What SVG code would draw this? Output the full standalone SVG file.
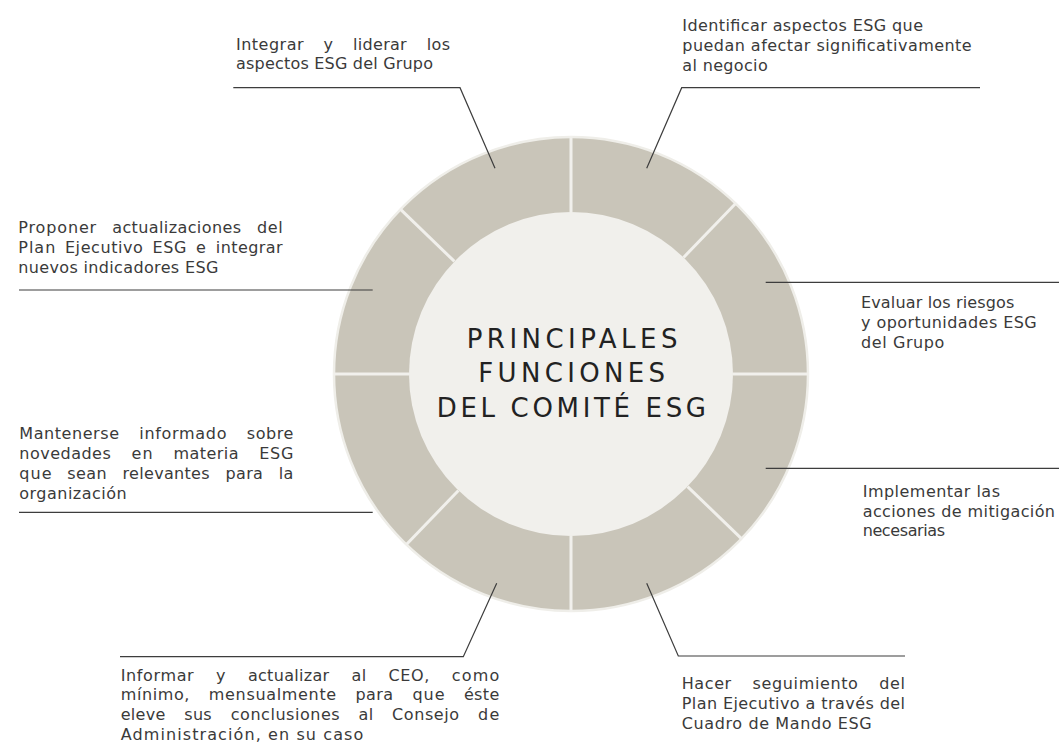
<svg xmlns="http://www.w3.org/2000/svg" width="1059" height="744" viewBox="0 0 1059 744">
<style>
.t{font-family:"DejaVu Sans","Liberation Sans",sans-serif;font-size:16px;fill:#3a3a3a}
.c{font-family:"DejaVu Sans","Liberation Sans",sans-serif;font-size:26px;fill:#222;}
.ld{fill:none;stroke:#3d3d3d;stroke-width:1.2}
.dv{stroke:#f1f0ec;stroke-width:3}
</style>
<rect width="1059" height="744" fill="#fff"/>
<g id="ring">
<circle cx="571" cy="374" r="237" fill="#c9c5b9" stroke="#efeee9" stroke-width="2.5"/>
<g class="dv">
<line x1="571" y1="212" x2="571" y2="136"/>
<line x1="571" y1="536" x2="571" y2="612"/>
<line x1="409" y1="374" x2="333" y2="374"/>
<line x1="733" y1="374" x2="809" y2="374"/>
<g transform="rotate(-1 571 374)">
<line x1="456.4" y1="259.4" x2="402.7" y2="205.7"/>
<line x1="685.6" y1="259.4" x2="739.3" y2="205.7"/>
<line x1="685.6" y1="488.6" x2="739.3" y2="542.3"/>
<line x1="456.4" y1="488.6" x2="402.7" y2="542.3"/>
</g>
</g>
</g>
<g id="center">
<circle cx="571" cy="374" r="162" fill="#f1f0ec"/>
<text class="c" x="466.7" y="348.3" textLength="210.7" lengthAdjust="spacing">PRINCIPALES</text>
<text class="c" x="478.3" y="382.3" textLength="186.7" lengthAdjust="spacing">FUNCIONES</text>
<text class="c" x="436.7" y="416.7" textLength="269.3" lengthAdjust="spacing">DEL COMITÉ ESG</text>
</g>
<g id="connectors">
<polyline class="ld" points="233.3,87.7 460,87.7 495,168.3"/>
<polyline class="ld" points="980,87.7 681.7,87.7 646.7,168.3"/>
<polyline class="ld" points="19,290 372.7,290"/>
<polyline class="ld" points="765.7,282.3 1059,282.3"/>
<polyline class="ld" points="19,512.3 372.7,512.3"/>
<polyline class="ld" points="765.7,468.3 1059,468.3"/>
<polyline class="ld" points="120,656.7 463.3,656.7 496.7,583.3"/>
<polyline class="ld" points="905,656 678.3,656 646.7,583.3"/>
</g>
<g id="f1">
<text class="t" x="236" y="49.5" textLength="67.5" lengthAdjust="spacing">Integrar</text>
<text class="t" x="323.6" y="49.5">y</text>
<text class="t" x="353.1" y="49.5" textLength="53.6" lengthAdjust="spacing">liderar</text>
<text class="t" x="426.8" y="49.5" textLength="23.3" lengthAdjust="spacing">los</text>
<text class="t" x="236" y="69.3" textLength="197" lengthAdjust="spacing">aspectos ESG del Grupo</text>
</g>
<g id="f2">
<text class="t" x="682.3" y="30.7" textLength="240.7" lengthAdjust="spacing">Identificar aspectos ESG que</text>
<text class="t" x="682.3" y="50.7" textLength="289.4" lengthAdjust="spacing">puedan afectar significativamente</text>
<text class="t" x="682.3" y="70.7" textLength="85.4" lengthAdjust="spacing">al negocio</text>
</g>
<g id="f3">
<text class="t" x="18.3" y="232.7" textLength="77.9" lengthAdjust="spacing">Proponer</text>
<text class="t" x="112.2" y="232.7" textLength="128.8" lengthAdjust="spacing">actualizaciones</text>
<text class="t" x="256.9" y="232.7" textLength="25.8" lengthAdjust="spacing">del</text>
<text class="t" x="18.3" y="252.5" textLength="37" lengthAdjust="spacing">Plan</text>
<text class="t" x="64.9" y="252.5" textLength="78" lengthAdjust="spacing">Ejecutivo</text>
<text class="t" x="152.4" y="252.5" textLength="34.1" lengthAdjust="spacing">ESG</text>
<text class="t" x="196.1" y="252.5">e</text>
<text class="t" x="215.8" y="252.5" textLength="66.9" lengthAdjust="spacing">integrar</text>
<text class="t" x="18.3" y="272.5" textLength="200" lengthAdjust="spacing">nuevos indicadores ESG</text>
</g>
<g id="f4">
<text class="t" x="861" y="308.3" textLength="153.3" lengthAdjust="spacing">Evaluar los riesgos</text>
<text class="t" x="861" y="328.3" textLength="175.7" lengthAdjust="spacing">y oportunidades ESG</text>
<text class="t" x="861" y="348.3" textLength="83.3" lengthAdjust="spacing">del Grupo</text>
</g>
<g id="f5">
<text class="t" x="19.3" y="439.3" textLength="99.7" lengthAdjust="spacing">Mantenerse</text>
<text class="t" x="139.3" y="439.3" textLength="87.2" lengthAdjust="spacing">informado</text>
<text class="t" x="246.8" y="439.3" textLength="46.5" lengthAdjust="spacing">sobre</text>
<text class="t" x="19.3" y="459.2" textLength="91.5" lengthAdjust="spacing">novedades</text>
<text class="t" x="131.5" y="459.2" textLength="21.2" lengthAdjust="spacing">en</text>
<text class="t" x="173.4" y="459.2" textLength="65.1" lengthAdjust="spacing">materia</text>
<text class="t" x="259.2" y="459.2" textLength="34.1" lengthAdjust="spacing">ESG</text>
<text class="t" x="19.3" y="479.1" textLength="32.2" lengthAdjust="spacing">que</text>
<text class="t" x="67.3" y="479.1" textLength="39.4" lengthAdjust="spacing">sean</text>
<text class="t" x="122.5" y="479.1" textLength="87.1" lengthAdjust="spacing">relevantes</text>
<text class="t" x="225.4" y="479.1" textLength="37.5" lengthAdjust="spacing">para</text>
<text class="t" x="278.7" y="479.1" textLength="14.5" lengthAdjust="spacing">la</text>
<text class="t" x="19.3" y="499" textLength="107.4" lengthAdjust="spacing">organización</text>
</g>
<g id="f6">
<text class="t" x="862.7" y="496.7" textLength="137.3" lengthAdjust="spacing">Implementar las</text>
<text class="t" x="862.7" y="516.5" textLength="192.3" lengthAdjust="spacing">acciones de mitigación</text>
<text class="t" x="862.7" y="536.3" textLength="82.3" lengthAdjust="spacing">necesarias</text>
</g>
<g id="f7">
<text class="t" x="120.7" y="680.6" textLength="73" lengthAdjust="spacing">Informar</text>
<text class="t" x="216.1" y="680.6">y</text>
<text class="t" x="247.9" y="680.6" textLength="81.3" lengthAdjust="spacing">actualizar</text>
<text class="t" x="351.6" y="680.6" textLength="14.5" lengthAdjust="spacing">al</text>
<text class="t" x="388.5" y="680.6" textLength="40.9" lengthAdjust="spacing">CEO,</text>
<text class="t" x="451.8" y="680.6" textLength="47.6" lengthAdjust="spacing">como</text>
<text class="t" x="120.7" y="700.4" textLength="68.7" lengthAdjust="spacing">mínimo,</text>
<text class="t" x="208.8" y="700.4" textLength="127.4" lengthAdjust="spacing">mensualmente</text>
<text class="t" x="355.5" y="700.4" textLength="37.5" lengthAdjust="spacing">para</text>
<text class="t" x="412.4" y="700.4" textLength="32.2" lengthAdjust="spacing">que</text>
<text class="t" x="463.9" y="700.4" textLength="35.4" lengthAdjust="spacing">éste</text>
<text class="t" x="120.7" y="720.2" textLength="44.6" lengthAdjust="spacing">eleve</text>
<text class="t" x="184.2" y="720.2" textLength="27.5" lengthAdjust="spacing">sus</text>
<text class="t" x="230.7" y="720.2" textLength="109" lengthAdjust="spacing">conclusiones</text>
<text class="t" x="358.6" y="720.2" textLength="14.5" lengthAdjust="spacing">al</text>
<text class="t" x="392" y="720.2" textLength="67.1" lengthAdjust="spacing">Consejo</text>
<text class="t" x="478.1" y="720.2" textLength="21.2" lengthAdjust="spacing">de</text>
<text class="t" x="120.7" y="740" textLength="242.6" lengthAdjust="spacing">Administración, en su caso</text>
</g>
<g id="f8">
<text class="t" x="681.7" y="689.3" textLength="49.5" lengthAdjust="spacing">Hacer</text>
<text class="t" x="752.6" y="689.3" textLength="105.3" lengthAdjust="spacing">seguimiento</text>
<text class="t" x="879.2" y="689.3" textLength="25.8" lengthAdjust="spacing">del</text>
<text class="t" x="681.7" y="709.2" textLength="223.3" lengthAdjust="spacing">Plan Ejecutivo a través del</text>
<text class="t" x="681.7" y="729" textLength="190" lengthAdjust="spacing">Cuadro de Mando ESG</text>
</g>
</svg>
